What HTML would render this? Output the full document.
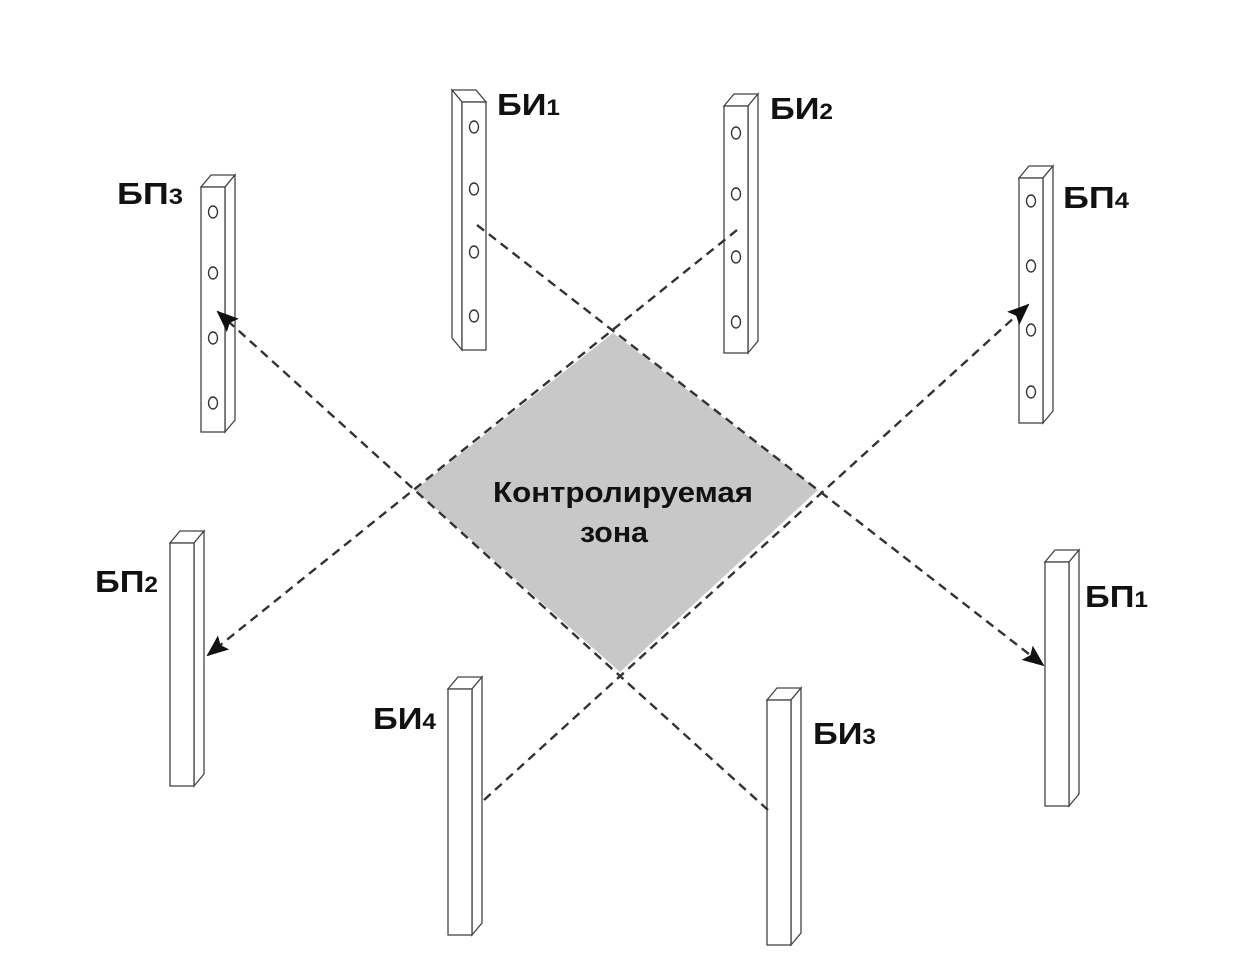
<!DOCTYPE html>
<html><head><meta charset="utf-8"><style>
html,body{margin:0;padding:0;background:#fff;}
svg{display:block;}
text{font-family:"Liberation Sans",sans-serif;font-weight:bold;fill:#111;}
</style></head><body>
<svg id="s" width="1259" height="976" viewBox="0 0 1259 976" xmlns="http://www.w3.org/2000/svg">
<defs>
<marker id="ar" markerWidth="22" markerHeight="18" refX="20" refY="9" orient="auto" markerUnits="userSpaceOnUse">
<path d="M0,0 L22,9 L0,18 L4,9 Z" fill="#111"/>
</marker>
</defs>
<polygon points="613,333 818,490 620,672 415,490" fill="#c8c8c8"/>
<g id="p"></g>
<g stroke="#333" stroke-width="2.4" stroke-dasharray="9,6" fill="none">
<line x1="477" y1="225" x2="1043" y2="665" marker-end="url(#ar)"/>
<line x1="737" y1="230" x2="208" y2="655" marker-end="url(#ar)"/>
<line x1="484" y1="800" x2="1028" y2="305" marker-end="url(#ar)"/>
<line x1="768" y1="810" x2="218" y2="312" marker-end="url(#ar)"/>
</g>
<g font-size="31">
<text x="497" y="115" textLength="63" lengthAdjust="spacingAndGlyphs">БИ<tspan font-size="22">1</tspan></text>
<text x="770" y="119" textLength="63" lengthAdjust="spacingAndGlyphs">БИ<tspan font-size="22">2</tspan></text>
<text x="117" y="204" textLength="66" lengthAdjust="spacingAndGlyphs">БП<tspan font-size="22">3</tspan></text>
<text x="1063" y="208" textLength="66" lengthAdjust="spacingAndGlyphs">БП<tspan font-size="22">4</tspan></text>
<text x="95" y="592" textLength="63" lengthAdjust="spacingAndGlyphs">БП<tspan font-size="22">2</tspan></text>
<text x="1085" y="607" textLength="63" lengthAdjust="spacingAndGlyphs">БП<tspan font-size="22">1</tspan></text>
<text x="373" y="729" textLength="63" lengthAdjust="spacingAndGlyphs">БИ<tspan font-size="22">4</tspan></text>
<text x="813" y="744" textLength="63" lengthAdjust="spacingAndGlyphs">БИ<tspan font-size="22">3</tspan></text>
</g>
<text x="493" y="502" font-size="29" textLength="260" lengthAdjust="spacingAndGlyphs">Контролируемая</text>
<text x="580" y="542" font-size="29" textLength="68" lengthAdjust="spacingAndGlyphs">зона</text>
</svg>
<script>
var g=document.getElementById('p'),ns='http://www.w3.org/2000/svg';
function el(t,a){var e=document.createElementNS(ns,t);for(var k in a)e.setAttribute(k,a[k]);g.appendChild(e);}
function pillar(x0,y0,y1,holes,left){
 var w=24,d=10,h=12;
 if(!left){
  el('polygon',{points:[x0,y0,x0+w,y0,x0+w+d,y0-h,x0+d,y0-h].join(','),fill:'#fff',stroke:'#444','stroke-width':1.3});
  el('polygon',{points:[x0+w,y0,x0+w+d,y0-h,x0+w+d,y1-h,x0+w,y1].join(','),fill:'#fff',stroke:'#444','stroke-width':1.3});
  el('rect',{x:x0,y:y0,width:w,height:y1-y0,fill:'#fff',stroke:'#444','stroke-width':1.3});
 } else {
  el('polygon',{points:[x0,y0,x0+w,y0,x0+w-d,y0-h,x0-d,y0-h].join(','),fill:'#fff',stroke:'#444','stroke-width':1.3});
  el('polygon',{points:[x0,y0,x0-d,y0-h,x0-d,y1-h,x0,y1].join(','),fill:'#fff',stroke:'#444','stroke-width':1.3});
  el('rect',{x:x0,y:y0,width:w,height:y1-y0,fill:'#fff',stroke:'#444','stroke-width':1.3});
 }
 holes.forEach(function(y){el('ellipse',{cx:x0+w/2,cy:y,rx:4.5,ry:6,fill:'#fff',stroke:'#333','stroke-width':1.4});});
}
pillar(462,102,350,[127,189,252,316],true);
pillar(724,106,353,[133,194,257,322],false);
pillar(201,187,432,[212,273,338,403],false);
pillar(1019,178,423,[201,266,330,392],false);
pillar(170,543,786,[],false);
pillar(1045,562,806,[],false);
pillar(448,689,935,[],false);
pillar(767,700,945,[],false);
</script>
</body></html>
